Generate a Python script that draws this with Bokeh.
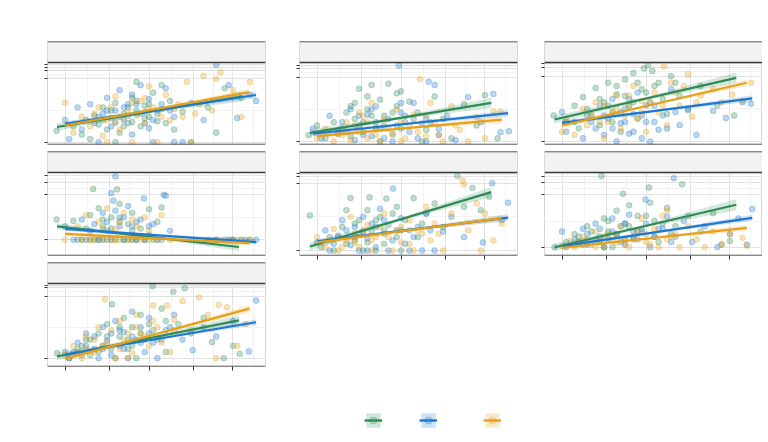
from bokeh.plotting import figure
from bokeh.layouts import column, row
from bokeh.models import (Range1d, FixedTicker, Span, BoxAnnotation,
                          CustomJSTickFormatter, Legend, LegendItem)
from bokeh.embed import file_html
from bokeh.resources import INLINE

GREEN, BLUE, ORANGE = "#2E8B57", "#1F78D0", "#E6A01A"
COLORS = [GREEN, BLUE, ORANGE]

x_ticks = [0, 1.048, 2.0, 3.048, 4.0]
x_minor = [0.524, 1.524, 2.524, 3.524, 4.5]
x_lim = (-0.417, 4.774)

# ---------------- panel A ----------------
a_grn = [(-0.2,0.18),(0.2,0.25),(0.4,0.12),(0.5,0.35),(0.6,0.05),(0.7,0.42),(0.8,0.28),(0.9,0.55),(1.0,0.2),(1.1,0.38),(1.2,0.62),(1.3,0.15),(1.4,0.45),(1.5,0.3),(1.6,0.7),(1.7,0.5),(1.8,0.25),(1.9,0.58),(2.0,0.4),(2.1,0.78),(2.2,0.33),(2.3,0.52),(2.5,0.65),(2.6,0.2),(2.8,0.48),(3.0,0.0),(1.2,0.0),(3.4,0.55),(3.6,0.15),(3.8,0.85),(4.2,0.7),(1.7,0.95),(2.3,0.9),
         (0.9,0.35),(1.1,0.5),(1.3,0.4),(1.5,0.55),(1.6,0.32),(1.8,0.45),(1.9,0.38),(2.0,0.6),(2.2,0.45),(2.4,0.3),(1.4,0.25),(1.7,0.65)]
a_blu = [(0.0,0.35),(0.1,0.05),(0.3,0.55),(0.4,0.2),(0.6,0.6),(0.7,0.3),(0.8,0.0),(0.9,0.45),(1.0,0.7),(1.1,0.25),(1.2,0.5),(1.3,0.82),(1.4,0.35),(1.5,0.6),(1.6,0.12),(1.7,0.45),(1.8,0.9),(1.9,0.3),(2.0,0.68),(2.1,0.0),(2.2,0.5),(2.4,0.85),(2.6,0.4),(2.8,0.0),(3.0,0.62),(3.3,0.35),(3.6,1.22),(3.9,0.9),(4.1,0.38),(4.4,0.75),(4.55,0.65),(2.6,0.0),
         (0.8,0.4),(1.0,0.5),(1.2,0.32),(1.4,0.55),(1.5,0.42),(1.7,0.6),(1.9,0.48),(2.1,0.35),(2.3,0.6),(2.5,0.5),(1.6,0.75),(2.0,0.22)]
a_org = [(0.0,0.62),(0.2,0.15),(0.4,0.4),(0.6,0.25),(0.8,0.55),(0.9,0.1),(1.0,0.35),(1.2,0.72),(1.3,0.2),(1.5,0.48),(1.6,0.0),(1.8,0.65),(1.9,0.3),(2.1,0.55),(2.2,0.0),(2.4,0.75),(2.5,0.35),(2.7,0.6),(2.9,0.95),(3.0,0.0),(3.1,0.45),(3.3,1.05),(3.5,0.5),(3.6,1.0),(3.7,1.1),(4.0,0.82),(4.2,0.4),(4.4,0.95),(1.0,0.0),(2.0,0.88),
         (0.7,0.45),(1.1,0.55),(1.4,0.38),(1.6,0.62),(1.7,0.42),(2.0,0.5),(2.3,0.4),(2.6,0.52),(1.2,0.3),(1.9,0.7),(2.8,0.4),(3.2,0.6)]
# fit: (x0, x1, y0, y1, band_w0, band_wmid, band_w1)
fit_a = [(-0.19,4.2,0.24,0.72,0.06,0.02,0.08),(0.0,4.55,0.29,0.745,0.04,0.015,0.05),(0.0,4.38,0.263,0.79,0.045,0.015,0.055)]
yt_a = [0, 1, 1.126, 1.178, 1.23]
ym_a = [0.5, 1.063, 1.152, 1.204]
lim_a = (-0.036, 1.257)

# ---------------- panel B ----------------
b_grn = [(-0.2,0.1),(0.0,0.25),(0.2,0.05),(0.4,0.3),(0.5,0.15),(0.7,0.45),(0.8,0.08),(0.9,0.6),(1.0,0.82),(1.1,0.3),(1.2,0.5),(1.3,0.88),(1.4,0.2),(1.5,0.65),(1.6,0.4),(1.7,0.9),(1.8,0.12),(1.9,0.55),(2.0,0.78),(2.1,0.3),(2.2,0.62),(2.4,0.45),(2.6,0.18),(2.8,0.7),(3.0,0.35),(3.2,0.05),(3.5,0.58),(3.8,0.25),(4.0,0.72),(1.5,0.0),(2.5,0.0),(4.3,0.05),
         (0.6,0.2),(0.9,0.35),(1.1,0.15),(1.3,0.4),(1.6,0.25),(1.8,0.45),(2.0,0.2),(2.3,0.35),(1.2,0.7),(1.9,0.75),(2.7,0.3),(0.8,0.55)]
b_blu = [(-0.1,0.2),(0.1,0.05),(0.3,0.4),(0.5,0.12),(0.6,0.3),(0.8,0.5),(0.9,0.02),(1.0,0.25),(1.2,0.42),(1.3,0.08),(1.4,0.55),(1.5,0.2),(1.7,0.35),(1.8,0.0),(1.95,1.18),(2.0,0.45),(2.2,0.15),(2.3,0.6),(2.5,0.28),(2.66,0.93),(2.8,0.88),(2.9,0.1),(3.1,0.4),(3.3,0.02),(3.6,0.69),(3.9,0.3),(4.2,0.74),(4.37,0.145),(4.57,0.16),(2.6,0.0),
         (0.7,0.15),(1.0,0.4),(1.1,0.1),(1.4,0.3),(1.6,0.05),(1.9,0.25),(2.1,0.4),(2.4,0.05),(2.6,0.35),(2.9,0.2),(1.3,0.5),(2.0,0.6)]
b_org = [(0.0,0.05),(0.2,0.2),(0.4,0.0),(0.5,0.12),(0.7,0.3),(0.8,0.02),(1.0,0.15),(1.1,0.4),(1.2,0.05),(1.4,0.22),(1.5,0.0),(1.6,0.35),(1.8,0.1),(1.9,0.5),(2.0,0.0),(2.2,0.25),(2.3,0.42),(2.45,0.97),(2.6,0.08),(2.8,0.3),(3.0,0.0),(3.2,0.55),(3.4,0.18),(3.6,0.0),(3.8,0.38),(4.0,0.05),(4.2,0.47),(4.37,0.47),(2.7,0.6),(1.3,0.6),
         (0.6,0.1),(0.9,0.25),(1.2,0.3),(1.4,0.1),(1.7,0.2),(2.0,0.3),(2.1,0.05),(2.4,0.15),(2.6,0.4),(2.9,0.1),(1.0,0.45),(3.3,0.25)]
fit_b = [(-0.17,4.15,0.135,0.60,0.06,0.02,0.08),(-0.1,4.55,0.12,0.44,0.04,0.015,0.05),(0.0,4.4,0.083,0.34,0.045,0.015,0.055)]
yt_b = [0, 1, 1.135, 1.19]
ym_b = [0.5, 1.068, 1.163, 1.215]
lim_b = (-0.047, 1.229)

# ---------------- panel C ----------------
c_grn = [(-0.2,0.4),(0.1,0.3),(0.3,0.55),(0.4,0.2),(0.5,0.68),(0.7,0.4),(0.8,0.82),(0.9,0.25),(1.0,0.6),(1.1,0.9),(1.2,0.45),(1.3,0.72),(1.4,0.15),(1.5,0.95),(1.6,0.55),(1.7,1.05),(1.8,0.35),(1.9,0.8),(1.95,1.12),(2.05,1.17),(2.1,0.6),(2.15,1.08),(2.3,0.9),(2.5,0.42),(2.6,1.0),(2.8,0.7),(3.0,0.5),(3.3,0.85),(3.7,0.55),(4.1,0.4),
         (0.6,0.5),(0.9,0.65),(1.1,0.55),(1.3,0.85),(1.5,0.7),(1.7,0.6),(1.8,0.9),(2.0,0.75),(2.2,0.85),(2.4,0.65),(1.2,0.3),(2.7,0.9)]
c_blu = [(0.0,0.45),(0.1,0.15),(0.3,0.3),(0.5,0.05),(0.6,0.4),(0.8,0.2),(0.9,0.55),(1.0,0.1),(1.1,0.35),(1.2,0.65),(1.3,0.0),(1.4,0.28),(1.5,0.5),(1.6,0.12),(1.7,0.42),(1.8,0.75),(1.9,0.05),(2.0,0.3),(2.1,0.0),(2.2,0.55),(2.3,0.18),(2.4,0.4),(2.6,0.8),(2.8,0.25),(3.0,0.48),(3.2,0.1),(3.6,0.47),(3.9,0.36),(4.3,0.6),(4.5,0.58),
         (0.7,0.3),(1.0,0.4),(1.2,0.2),(1.4,0.45),(1.5,0.3),(1.7,0.15),(1.9,0.4),(2.0,0.55),(2.2,0.3),(2.5,0.2),(1.6,0.65),(2.7,0.45)]
c_org = [(0.0,0.15),(0.1,0.35),(0.3,0.1),(0.5,0.5),(0.6,0.25),(0.8,0.6),(0.9,0.3),(1.0,0.05),(1.2,0.45),(1.3,0.7),(1.4,0.2),(1.6,0.55),(1.7,0.85),(1.8,0.35),(1.9,0.62),(2.0,0.15),(2.2,0.75),(2.3,0.45),(2.43,1.15),(2.5,0.25),(2.6,0.9),(2.8,0.55),(3.0,1.03),(3.1,0.38),(3.3,0.7),(3.6,0.8),(3.8,0.6),(4.05,0.72),(4.3,0.62),(4.5,0.9),
         (0.7,0.4),(1.0,0.55),(1.1,0.3),(1.5,0.4),(1.6,0.7),(1.9,0.45),(2.1,0.6),(2.4,0.55),(2.7,0.75),(2.9,0.85),(1.3,0.5),(3.2,0.6)]
fit_c = [(-0.18,4.15,0.337,0.975,0.06,0.02,0.08),(0.0,4.53,0.285,0.66,0.04,0.015,0.05),(0.0,4.4,0.245,0.90,0.045,0.015,0.055)]
yt_c = [0, 1, 1.14, 1.2]
ym_c = [0.5, 1.07, 1.17]
lim_c = (-0.046, 1.21)

# ---------------- panel D ----------------
d_grn = [(-0.2,0.45),(0.2,0.42),(0.4,0.0),(0.5,0.25),(0.6,0.55),(0.67,1.13),(0.7,0.0),(0.8,0.7),(0.9,0.3),(1.0,0.0),(1.1,0.5),(1.24,1.12),(1.3,0.8),(1.4,0.0),(1.5,0.35),(1.6,0.6),(1.7,0.0),(1.8,0.25),(2.0,0.68),(2.1,0.0),(2.2,0.4),(2.3,0.72),(1.2,0.0),(0.3,0.0),(3.6,0.0),(3.9,0.0),(4.2,0.0),(4.0,0.0),
         (0.6,0.0),(0.8,0.0),(0.9,0.45),(1.1,0.25),(1.3,0.4),(1.5,0.0),(1.6,0.2),(1.9,0.0),(2.3,0.0),(4.4,0.0)]
d_blu = [(0.0,0.3),(0.2,0.0),(0.4,0.45),(0.5,0.0),(0.7,0.35),(0.8,0.0),(0.9,0.6),(1.0,0.2),(1.1,1.04),(1.15,0.87),(1.2,1.41),(1.3,0.5),(1.4,0.0),(1.5,0.75),(1.6,0.3),(1.7,0.0),(1.8,0.45),(1.88,0.92),(2.0,0.1),(2.1,0.35),(2.2,0.0),(2.35,1.0),(2.4,0.98),(2.5,0.2),(3.4,0.0),(3.8,0.0),(4.3,0.0),(4.55,0.0),
         (0.6,0.2),(0.9,0.0),(1.0,0.4),(1.1,0.0),(1.2,0.65),(1.3,0.3),(1.4,0.5),(1.6,0.0),(1.7,0.4),(1.9,0.0),(2.0,0.3),(3.6,0.0),(4.0,0.0)]
d_org = [(0.0,0.0),(0.3,0.3),(0.5,0.55),(0.6,0.0),(0.8,0.4),(0.9,0.0),(1.0,0.7),(1.2,0.25),(1.3,0.0),(1.4,0.6),(1.5,0.0),(1.6,0.45),(1.8,0.0),(1.9,0.5),(2.0,0.2),(2.2,0.0),(2.3,0.55),(2.5,0.0),(3.5,0.0),(3.7,0.0),(4.1,0.0),(4.4,0.0),(1.1,0.0),(0.4,0.0),
         (0.7,0.0),(0.9,0.25),(1.2,0.0),(1.3,0.4),(1.6,0.0),(1.7,0.3),(2.0,0.0),(3.9,0.0),(4.2,0.0)]
fit_d = [(-0.19,4.14,0.30,-0.16,0.07,0.025,0.09),(0.0,4.55,0.243,-0.05,0.05,0.02,0.06),(0.0,4.4,0.13,-0.075,0.05,0.02,0.06)]
yt_d = [0, 1, 1.28, 1.429]
ym_d = [0.5, 1.14, 1.355]
lim_d = (-0.349, 1.496)

# ---------------- panel E ----------------
e_grn = [(-0.17,0.52),(0.1,0.05),(0.3,0.2),(0.4,0.0),(0.6,0.35),(0.8,0.78),(0.9,0.15),(1.0,0.45),(1.1,0.0),(1.2,0.6),(1.25,0.79),(1.3,0.28),(1.5,0.5),(1.6,0.1),(1.65,0.77),(1.7,0.38),(1.9,0.65),(2.0,0.0),(2.1,0.45),(2.3,0.78),(2.4,0.2),(2.6,0.55),(2.8,0.7),(3.0,0.35),(3.34,1.11),(3.5,0.65),(3.7,0.93),(3.9,0.6),(4.1,0.8),(1.4,0.0),
         (0.5,0.2),(0.7,0.1),(0.9,0.4),(1.0,0.25),(1.2,0.12),(1.4,0.45),(1.6,0.3),(1.8,0.55),(2.2,0.3),(2.5,0.4),(0.7,0.6),(1.9,0.2)]
e_blu = [(0.0,0.12),(0.2,0.3),(0.3,0.0),(0.5,0.22),(0.6,0.45),(0.8,0.08),(0.9,0.35),(1.0,0.0),(1.1,0.5),(1.2,0.18),(1.3,0.4),(1.4,0.05),(1.5,0.62),(1.6,0.25),(1.7,0.0),(1.81,0.92),(1.9,0.3),(2.0,0.48),(2.1,0.1),(2.2,0.0),(2.4,0.35),(2.6,0.55),(2.8,0.0),(3.0,0.28),(3.2,0.5),(3.5,0.2),(3.95,0.12),(4.17,1.0),(4.4,0.45),(4.55,0.71),
         (0.4,0.1),(0.7,0.3),(0.9,0.2),(1.1,0.28),(1.2,0.0),(1.4,0.35),(1.6,0.45),(1.8,0.15),(2.0,0.3),(2.3,0.2),(2.5,0.0),(2.7,0.3)]
e_org = [(0.0,0.2),(0.2,0.05),(0.4,0.32),(0.5,0.0),(0.7,0.15),(0.8,0.5),(0.9,0.25),(1.0,0.05),(1.2,0.38),(1.3,0.0),(1.4,0.2),(1.6,0.55),(1.8,0.0),(1.9,0.3),(2.0,0.12),(2.2,0.45),(2.3,0.0),(2.5,0.25),(2.6,0.65),(2.8,0.4),(3.0,0.0),(3.2,0.55),(3.46,1.04),(3.5,0.98),(3.6,0.3),(3.8,0.7),(4.0,0.55),(4.2,0.15),(4.4,0.4),(3.9,0.0),
         (0.3,0.15),(0.6,0.05),(0.9,0.12),(1.1,0.3),(1.3,0.15),(1.5,0.35),(1.7,0.2),(2.0,0.35),(2.2,0.1),(2.4,0.3),(2.7,0.15),(2.9,0.25)]
fit_e = [(-0.17,4.15,0.06,0.867,0.06,0.02,0.075),(0.0,4.55,0.135,0.49,0.04,0.015,0.05),(0.0,4.4,0.12,0.48,0.045,0.015,0.055)]
yt_e = [0, 1, 1.104, 1.14]
ym_e = [0.5, 1.052, 1.122]
lim_e = (-0.074, 1.159)

# ---------------- panel F ----------------
f_grn = [(-0.18,0.0),(0.1,0.1),(0.3,0.25),(0.5,0.05),(0.6,0.4),(0.8,0.15),(0.94,1.36),(1.0,0.55),(1.1,0.3),(1.2,0.0),(1.3,0.7),(1.45,1.02),(1.5,0.45),(1.6,0.8),(1.7,0.2),(1.8,0.6),(1.9,0.35),(2.07,1.14),(2.1,0.85),(2.2,0.5),(2.3,0.1),(2.5,0.75),(2.7,0.4),(2.86,1.2),(3.0,0.6),(3.3,0.3),(3.6,0.65),(3.8,0.05),(4.0,0.12),(1.0,0.0),
         (0.4,0.2),(0.7,0.3),(0.9,0.1),(1.1,0.5),(1.3,0.25),(1.5,0.15),(1.6,0.4),(1.8,0.3),(2.0,0.6),(2.2,0.2),(2.4,0.45),(2.6,0.25)]
f_blu = [(0.0,0.3),(0.1,0.0),(0.3,0.15),(0.5,0.35),(0.6,0.05),(0.8,0.45),(0.9,0.2),(1.0,0.0),(1.2,0.55),(1.3,0.25),(1.4,0.4),(1.5,0.05),(1.6,0.62),(1.7,0.3),(1.8,0.15),(1.99,0.91),(2.0,0.45),(2.1,0.0),(2.3,0.35),(2.5,0.58),(2.66,1.32),(2.7,0.2),(2.9,0.5),(3.1,0.1),(3.4,0.4),(3.7,0.0),(4.0,0.25),(4.2,0.55),(4.4,0.05),(4.53,0.73),
         (0.4,0.1),(0.6,0.25),(0.9,0.35),(1.1,0.15),(1.2,0.3),(1.4,0.1),(1.5,0.45),(1.7,0.15),(1.9,0.3),(2.2,0.2),(2.4,0.35),(2.6,0.1)]
f_org = [(0.0,0.02),(0.2,0.12),(0.3,0.0),(0.5,0.2),(0.7,0.05),(0.8,0.3),(0.9,0.1),(1.0,0.0),(1.1,0.25),(1.3,0.08),(1.4,0.4),(1.5,0.15),(1.6,0.0),(1.8,0.3),(1.9,0.55),(2.0,0.1),(2.2,0.35),(2.3,0.0),(2.4,0.6),(2.6,0.2),(2.8,0.0),(3.0,0.4),(3.2,0.15),(3.4,0.0),(3.6,0.3),(3.8,0.05),(4.0,0.25),(4.3,0.18),(4.4,0.03),(2.5,0.7),
         (0.4,0.1),(0.6,0.15),(0.8,0.0),(1.0,0.2),(1.2,0.15),(1.3,0.25),(1.5,0.05),(1.7,0.2),(2.0,0.25),(2.1,0.05),(2.5,0.15),(2.7,0.25)]
fit_f = [(-0.18,4.15,0.0,0.81,0.07,0.025,0.11),(0.0,4.53,0.02,0.56,0.045,0.018,0.06),(0.0,4.4,-0.01,0.37,0.045,0.018,0.06)]
yt_f = [0, 1, 1.24, 1.355]
ym_f = [0.5, 1.12, 1.30, 1.41]
lim_f = (-0.158, 1.426)

# ---------------- panel G ----------------
g_grn = [(-0.19,0.08),(0.1,0.0),(0.3,0.15),(0.5,0.3),(0.6,0.05),(0.8,0.4),(0.9,0.2),(1.0,0.55),(1.12,0.87),(1.2,0.0),(1.3,0.35),(1.4,0.65),(1.5,0.15),(1.6,0.5),(1.7,0.0),(1.8,0.7),(1.9,0.3),(2.09,1.16),(2.1,0.45),(2.3,0.8),(2.4,0.1),(2.58,1.07),(2.7,0.55),(2.85,1.13),(3.0,0.4),(3.3,0.65),(3.5,0.26),(3.78,0.0),(4.0,0.2),(4.16,0.07),
         (0.4,0.2),(0.6,0.3),(0.8,0.1),(1.0,0.35),(1.1,0.15),(1.3,0.5),(1.5,0.3),(1.6,0.2),(1.8,0.4),(2.0,0.55),(2.2,0.3),(2.4,0.6)]
g_blu = [(0.0,0.1),(0.1,0.0),(0.3,0.25),(0.4,0.05),(0.5,0.4),(0.7,0.15),(0.8,0.0),(0.9,0.5),(1.0,0.28),(1.1,0.05),(1.2,0.6),(1.3,0.2),(1.4,0.42),(1.5,0.0),(1.6,0.75),(1.7,0.3),(1.8,0.5),(1.9,0.1),(2.0,0.65),(2.1,0.25),(2.2,0.0),(2.4,0.45),(2.6,0.7),(2.8,0.3),(3.04,0.13),(3.3,0.5),(3.6,0.35),(4.0,0.6),(4.38,0.11),(4.55,0.93),
         (0.2,0.1),(0.5,0.2),(0.7,0.35),(0.9,0.15),(1.1,0.4),(1.3,0.45),(1.4,0.15),(1.6,0.35),(1.8,0.25),(2.0,0.4),(2.3,0.3),(2.5,0.5)]
g_org = [(0.0,0.05),(0.2,0.2),(0.4,0.0),(0.5,0.35),(0.7,0.1),(0.8,0.5),(0.95,0.95),(1.0,0.25),(1.2,0.0),(1.3,0.6),(1.4,0.3),(1.6,0.08),(1.7,0.7),(1.8,0.4),(2.0,0.2),(2.1,0.85),(2.2,0.5),(2.43,0.85),(2.5,0.1),(2.6,0.62),(2.8,0.92),(3.0,0.45),(3.19,0.98),(3.4,0.7),(3.66,0.86),(3.86,0.82),(4.1,0.2),(4.3,0.55),(3.6,0.0),(1.5,0.0),
         (0.3,0.1),(0.5,0.15),(0.7,0.3),(0.9,0.2),(1.1,0.45),(1.3,0.15),(1.5,0.4),(1.7,0.5),(1.9,0.35),(2.1,0.6),(2.3,0.25),(2.6,0.45)]
fit_g = [(-0.19,4.14,0.027,0.61,0.06,0.02,0.08),(0.0,4.55,0.06,0.58,0.04,0.015,0.05),(0.0,4.39,-0.01,0.80,0.045,0.015,0.06)]
yt_g = [0, 1, 1.135, 1.177]
ym_g = [0.5, 1.068, 1.156]
lim_g = (-0.134, 1.205)

# ---------------- layout geometry ----------------
COLS = [(47, 218, 7), (27, 218, 8), (19, 218, 0)]   # left border, frame width, right border
ROWS = [(41, 103, 7), (0, 104, 7), (0, 104, 14)]    # top border, frame height, bottom border
STRIP = 21

DARK = "#3a3a3a"


def empty_fmt():
    return CustomJSTickFormatter(code="return ''")


def make_panel(r, c, series, fits, yt, ym, lim, has_x):
    lb, fw, rb = COLS[c]
    tb, fh, bb = ROWS[r]
    lo, hi = lim
    ph = fh - STRIP
    ytop = hi + (hi - lo) * STRIP / ph
    p = figure(width=lb + fw + rb, height=tb + fh + bb,
               x_range=Range1d(*x_lim), y_range=Range1d(lo, ytop),
               toolbar_location=None, output_backend="svg",
               min_border_left=lb, min_border_right=rb,
               min_border_top=tb, min_border_bottom=bb,
               x_axis_location="below" if has_x else None,
               y_axis_location="left")
    p.background_fill_color = "white"
    p.border_fill_color = "white"
    p.outline_line_color = "#d4d4d4"

    p.xgrid.ticker = FixedTicker(ticks=x_ticks, minor_ticks=x_minor)
    p.ygrid.ticker = FixedTicker(ticks=yt, minor_ticks=ym)
    for g in (p.xgrid, p.ygrid):
        g.grid_line_color = "#e2e2e2"
        g.grid_line_width = 1
        g.minor_grid_line_color = "#f0f0f0"
        g.minor_grid_line_width = 0.8

    ya = p.yaxis[0]
    ya.ticker = FixedTicker(ticks=yt)
    ya.formatter = empty_fmt()
    ya.axis_line_color = None
    ya.major_tick_in = 0
    ya.major_tick_out = 3
    ya.major_tick_line_color = "#333333"
    ya.minor_tick_line_color = None
    ya.major_label_text_font_size = "0px"
    ya.major_label_standoff = 0

    if has_x:
        xa = p.xaxis[0]
        xa.ticker = FixedTicker(ticks=x_ticks)
        xa.formatter = empty_fmt()
        xa.axis_line_color = None
        xa.major_tick_in = 0
        xa.major_tick_out = 4
        xa.major_tick_line_color = "#333333"
        xa.minor_tick_line_color = None
        xa.major_label_text_font_size = "0px"
        xa.major_label_standoff = 0

    for pts, col in zip(series, COLORS):
        xs = [q[0] for q in pts]
        ys = [q[1] for q in pts]
        p.scatter(xs, ys, size=5.8, fill_color=col, fill_alpha=0.3,
                  line_color=col, line_alpha=0.35, line_width=0.8)

    for f, col in zip(fits, COLORS):
        x0, x1, y0, y1, w0, wm, w1 = f
        bx = [x0, (x0 + x1) / 2, x1]
        by = [y0, (y0 + y1) / 2, y1]
        bw = [w0, wm, w1]
        p.varea(x=bx, y1=[a - b for a, b in zip(by, bw)],
                y2=[a + b for a, b in zip(by, bw)],
                fill_color=col, fill_alpha=0.2)
    for f, col in zip(fits, COLORS):
        x0, x1, y0, y1 = f[:4]
        p.line([x0, x1], [y0, y1], line_color=col, line_width=2.2)

    p.add_layout(BoxAnnotation(bottom=hi, fill_color="#f2f2f2", fill_alpha=1,
                               line_color="#c4c4c4", line_width=1))
    for loc in (ytop, hi, lo):
        p.add_layout(Span(location=loc, dimension="width",
                          line_color=DARK, line_width=1.4))
    return p


pA = make_panel(0, 0, [a_grn, a_blu, a_org], fit_a, yt_a, ym_a, lim_a, False)
pB = make_panel(0, 1, [b_grn, b_blu, b_org], fit_b, yt_b, ym_b, lim_b, False)
pC = make_panel(0, 2, [c_grn, c_blu, c_org], fit_c, yt_c, ym_c, lim_c, False)
pD = make_panel(1, 0, [d_grn, d_blu, d_org], fit_d, yt_d, ym_d, lim_d, False)
pE = make_panel(1, 1, [e_grn, e_blu, e_org], fit_e, yt_e, ym_e, lim_e, True)
pF = make_panel(1, 2, [f_grn, f_blu, f_org], fit_f, yt_f, ym_f, lim_f, True)
pG = make_panel(2, 0, [g_grn, g_blu, g_org], fit_g, yt_g, ym_g, lim_g, True)

# ---------------- legend ----------------
# legend keys reuse panel G's series; the legend figure's ranges keep them out of view
legend_x = [364, 419, 483]
lf = figure(width=760, height=52, x_range=Range1d(100, 101), y_range=Range1d(100, 101),
            toolbar_location=None, output_backend="svg",
            x_axis_location=None, y_axis_location=None, min_border=0)
lf.grid.visible = False
lf.outline_line_color = None
for pts, f, col, lx in zip([g_grn, g_blu, g_org], fit_g, COLORS, legend_x):
    xs = [q[0] for q in pts]
    ys = [q[1] for q in pts]
    x0, x1, y0, y1, w0, wm, w1 = f
    band = lf.varea(x=[x0, x1], y1=[y0 - w0, y1 - w1], y2=[y0 + w0, y1 + w1],
                    fill_color=col, fill_alpha=0.22)
    ln = lf.line(x=[x0, x1], y=[y0, y1], line_color=col, line_width=2.4)
    pt = lf.scatter(xs, ys, size=5, fill_color=col, fill_alpha=0.25,
                    line_color=col, line_alpha=0.25)
    leg = Legend(items=[LegendItem(label=" ", renderers=[band, ln, pt])],
                 location=(lx, 3), orientation="horizontal",
                 border_line_color=None, background_fill_alpha=0,
                 padding=0, margin=0, spacing=0, glyph_width=18, glyph_height=18,
                 label_height=18, label_width=0, label_standoff=0,
                 label_text_font_size="10px")
    lf.add_layout(leg)

layout = column(row(pA, pB, pC), row(pD, pE, pF), row(pG), lf)

open("out.html", "w").write(file_html(layout, INLINE))
